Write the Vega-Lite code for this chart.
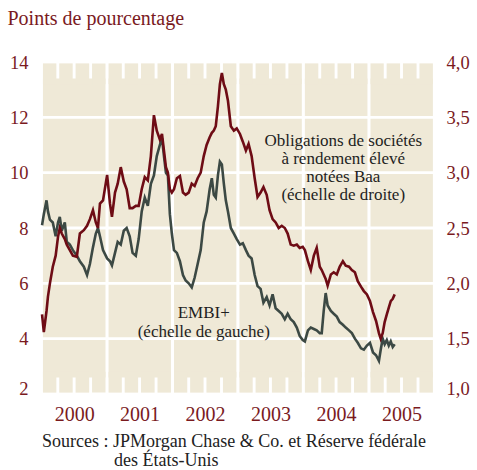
{
  "$schema": "https://vega.github.io/schema/vega-lite/v6.json",
  "width": 393,
  "height": 332,
  "autosize": "none",
  "padding": {"left": 41.5, "top": 62, "right": 42.5, "bottom": 76},
  "config": {
    "view": {"stroke": null},
    "font": "Liberation Serif"
  },
  "title": {
    "text": "Points de pourcentage",
    "anchor": "start",
    "frame": "bounds",
    "font": "Liberation Serif",
    "fontSize": 20,
    "fontWeight": "normal",
    "color": "#7A1A1E",
    "baseline": "alphabetic",
    "offset": 8,
    "dx": -2
  },
  "datasets": {
    "cells": [
      {"x0": "2000-01-09", "x1": "2000-12-23", "y0": 4.05, "y1": 5.95},
      {"x0": "2000-01-09", "x1": "2000-12-23", "y0": 6.05, "y1": 7.95},
      {"x0": "2000-01-09", "x1": "2000-12-23", "y0": 8.05, "y1": 9.95},
      {"x0": "2000-01-09", "x1": "2000-12-23", "y0": 10.05, "y1": 11.95},
      {"x0": "2000-01-09", "x1": "2000-12-23", "y0": 12.05, "y1": 13.4},
      {"x0": "2000-01-09", "x1": "2000-12-23", "y0": 2.6, "y1": 3.95},
      {"x0": "2000-01-09", "x1": "2000-03-24", "y0": 13.2, "y1": 13.95},
      {"x0": "2000-04-09", "x1": "2000-06-23", "y0": 13.2, "y1": 13.95},
      {"x0": "2000-07-09", "x1": "2000-09-23", "y0": 13.2, "y1": 13.95},
      {"x0": "2000-10-09", "x1": "2000-12-23", "y0": 13.2, "y1": 13.95},
      {"x0": "2000-01-09", "x1": "2000-03-24", "y0": 2.05, "y1": 2.8},
      {"x0": "2000-04-09", "x1": "2000-06-23", "y0": 2.05, "y1": 2.8},
      {"x0": "2000-07-09", "x1": "2000-09-23", "y0": 2.05, "y1": 2.8},
      {"x0": "2000-10-09", "x1": "2000-12-23", "y0": 2.05, "y1": 2.8},
      {"x0": "2001-01-09", "x1": "2001-12-23", "y0": 4.05, "y1": 5.95},
      {"x0": "2001-01-09", "x1": "2001-12-23", "y0": 6.05, "y1": 7.95},
      {"x0": "2001-01-09", "x1": "2001-12-23", "y0": 8.05, "y1": 9.95},
      {"x0": "2001-01-09", "x1": "2001-12-23", "y0": 10.05, "y1": 11.95},
      {"x0": "2001-01-09", "x1": "2001-12-23", "y0": 12.05, "y1": 13.4},
      {"x0": "2001-01-09", "x1": "2001-12-23", "y0": 2.6, "y1": 3.95},
      {"x0": "2001-01-09", "x1": "2001-03-24", "y0": 13.2, "y1": 13.95},
      {"x0": "2001-04-09", "x1": "2001-06-23", "y0": 13.2, "y1": 13.95},
      {"x0": "2001-07-09", "x1": "2001-09-23", "y0": 13.2, "y1": 13.95},
      {"x0": "2001-10-09", "x1": "2001-12-23", "y0": 13.2, "y1": 13.95},
      {"x0": "2001-01-09", "x1": "2001-03-24", "y0": 2.05, "y1": 2.8},
      {"x0": "2001-04-09", "x1": "2001-06-23", "y0": 2.05, "y1": 2.8},
      {"x0": "2001-07-09", "x1": "2001-09-23", "y0": 2.05, "y1": 2.8},
      {"x0": "2001-10-09", "x1": "2001-12-23", "y0": 2.05, "y1": 2.8},
      {"x0": "2002-01-09", "x1": "2002-12-23", "y0": 4.05, "y1": 5.95},
      {"x0": "2002-01-09", "x1": "2002-12-23", "y0": 6.05, "y1": 7.95},
      {"x0": "2002-01-09", "x1": "2002-12-23", "y0": 8.05, "y1": 9.95},
      {"x0": "2002-01-09", "x1": "2002-12-23", "y0": 10.05, "y1": 11.95},
      {"x0": "2002-01-09", "x1": "2002-12-23", "y0": 12.05, "y1": 13.4},
      {"x0": "2002-01-09", "x1": "2002-12-23", "y0": 2.6, "y1": 3.95},
      {"x0": "2002-01-09", "x1": "2002-03-24", "y0": 13.2, "y1": 13.95},
      {"x0": "2002-04-09", "x1": "2002-06-23", "y0": 13.2, "y1": 13.95},
      {"x0": "2002-07-09", "x1": "2002-09-23", "y0": 13.2, "y1": 13.95},
      {"x0": "2002-10-09", "x1": "2002-12-23", "y0": 13.2, "y1": 13.95},
      {"x0": "2002-01-09", "x1": "2002-03-24", "y0": 2.05, "y1": 2.8},
      {"x0": "2002-04-09", "x1": "2002-06-23", "y0": 2.05, "y1": 2.8},
      {"x0": "2002-07-09", "x1": "2002-09-23", "y0": 2.05, "y1": 2.8},
      {"x0": "2002-10-09", "x1": "2002-12-23", "y0": 2.05, "y1": 2.8},
      {"x0": "2003-01-09", "x1": "2003-12-23", "y0": 4.05, "y1": 5.95},
      {"x0": "2003-01-09", "x1": "2003-12-23", "y0": 6.05, "y1": 7.95},
      {"x0": "2003-01-09", "x1": "2003-12-23", "y0": 8.05, "y1": 9.95},
      {"x0": "2003-01-09", "x1": "2003-12-23", "y0": 10.05, "y1": 11.95},
      {"x0": "2003-01-09", "x1": "2003-12-23", "y0": 12.05, "y1": 13.4},
      {"x0": "2003-01-09", "x1": "2003-12-23", "y0": 2.6, "y1": 3.95},
      {"x0": "2003-01-09", "x1": "2003-03-24", "y0": 13.2, "y1": 13.95},
      {"x0": "2003-04-09", "x1": "2003-06-23", "y0": 13.2, "y1": 13.95},
      {"x0": "2003-07-09", "x1": "2003-09-23", "y0": 13.2, "y1": 13.95},
      {"x0": "2003-10-09", "x1": "2003-12-23", "y0": 13.2, "y1": 13.95},
      {"x0": "2003-01-09", "x1": "2003-03-24", "y0": 2.05, "y1": 2.8},
      {"x0": "2003-04-09", "x1": "2003-06-23", "y0": 2.05, "y1": 2.8},
      {"x0": "2003-07-09", "x1": "2003-09-23", "y0": 2.05, "y1": 2.8},
      {"x0": "2003-10-09", "x1": "2003-12-23", "y0": 2.05, "y1": 2.8},
      {"x0": "2004-01-09", "x1": "2004-12-23", "y0": 4.05, "y1": 5.95},
      {"x0": "2004-01-09", "x1": "2004-12-23", "y0": 6.05, "y1": 7.95},
      {"x0": "2004-01-09", "x1": "2004-12-23", "y0": 8.05, "y1": 9.95},
      {"x0": "2004-01-09", "x1": "2004-12-23", "y0": 10.05, "y1": 11.95},
      {"x0": "2004-01-09", "x1": "2004-12-23", "y0": 12.05, "y1": 13.4},
      {"x0": "2004-01-09", "x1": "2004-12-23", "y0": 2.6, "y1": 3.95},
      {"x0": "2004-01-09", "x1": "2004-03-24", "y0": 13.2, "y1": 13.95},
      {"x0": "2004-04-09", "x1": "2004-06-23", "y0": 13.2, "y1": 13.95},
      {"x0": "2004-07-09", "x1": "2004-09-23", "y0": 13.2, "y1": 13.95},
      {"x0": "2004-10-09", "x1": "2004-12-23", "y0": 13.2, "y1": 13.95},
      {"x0": "2004-01-09", "x1": "2004-03-24", "y0": 2.05, "y1": 2.8},
      {"x0": "2004-04-09", "x1": "2004-06-23", "y0": 2.05, "y1": 2.8},
      {"x0": "2004-07-09", "x1": "2004-09-23", "y0": 2.05, "y1": 2.8},
      {"x0": "2004-10-09", "x1": "2004-12-23", "y0": 2.05, "y1": 2.8},
      {"x0": "2005-01-09", "x1": "2005-12-23", "y0": 4.05, "y1": 5.95},
      {"x0": "2005-01-09", "x1": "2005-12-23", "y0": 6.05, "y1": 7.95},
      {"x0": "2005-01-09", "x1": "2005-12-23", "y0": 8.05, "y1": 9.95},
      {"x0": "2005-01-09", "x1": "2005-12-23", "y0": 10.05, "y1": 11.95},
      {"x0": "2005-01-09", "x1": "2005-12-23", "y0": 12.05, "y1": 13.4},
      {"x0": "2005-01-09", "x1": "2005-12-23", "y0": 2.6, "y1": 3.95},
      {"x0": "2005-01-09", "x1": "2005-03-24", "y0": 13.2, "y1": 13.95},
      {"x0": "2005-04-09", "x1": "2005-06-23", "y0": 13.2, "y1": 13.95},
      {"x0": "2005-07-09", "x1": "2005-09-23", "y0": 13.2, "y1": 13.95},
      {"x0": "2005-10-09", "x1": "2005-12-23", "y0": 13.2, "y1": 13.95},
      {"x0": "2005-01-09", "x1": "2005-03-24", "y0": 2.05, "y1": 2.8},
      {"x0": "2005-04-09", "x1": "2005-06-23", "y0": 2.05, "y1": 2.8},
      {"x0": "2005-07-09", "x1": "2005-09-23", "y0": 2.05, "y1": 2.8},
      {"x0": "2005-10-09", "x1": "2005-12-23", "y0": 2.05, "y1": 2.8}
    ],
    "series": [
      {"date": "2000-01-04", "embi": 8.1, "baa": 1.72},
      {"date": "2000-01-14", "embi": 8.5, "baa": 1.56},
      {"date": "2000-01-29", "embi": 9.0, "baa": 1.75},
      {"date": "2000-02-06", "embi": 8.6, "baa": 1.88},
      {"date": "2000-02-17", "embi": 8.3, "baa": 2.0},
      {"date": "2000-03-04", "embi": 8.2, "baa": 2.15},
      {"date": "2000-03-20", "embi": 7.7, "baa": 2.25},
      {"date": "2000-04-02", "embi": 8.2, "baa": 2.42},
      {"date": "2000-04-12", "embi": 8.4, "baa": 2.5},
      {"date": "2000-04-23", "embi": 7.9, "baa": 2.45},
      {"date": "2000-05-10", "embi": 8.2, "baa": 2.4},
      {"date": "2000-05-21", "embi": 7.5, "baa": 2.35},
      {"date": "2000-06-07", "embi": 7.4, "baa": 2.3},
      {"date": "2000-06-24", "embi": 7.2, "baa": 2.25},
      {"date": "2000-07-16", "embi": 7.0, "baa": 2.24},
      {"date": "2000-08-02", "embi": 6.8, "baa": 2.45},
      {"date": "2000-08-24", "embi": 6.6, "baa": 2.48},
      {"date": "2000-09-11", "embi": 6.3, "baa": 2.52},
      {"date": "2000-09-27", "embi": 6.7, "baa": 2.58},
      {"date": "2000-10-14", "embi": 7.3, "baa": 2.66},
      {"date": "2000-10-30", "embi": 7.8, "baa": 2.55},
      {"date": "2000-11-11", "embi": 8.0, "baa": 2.5},
      {"date": "2000-11-22", "embi": 7.7, "baa": 2.72},
      {"date": "2000-12-09", "embi": 7.2, "baa": 2.75},
      {"date": "2001-01-01", "embi": 6.9, "baa": 2.98},
      {"date": "2001-01-17", "embi": 6.8, "baa": 2.72},
      {"date": "2001-01-28", "embi": 6.65, "baa": 2.6},
      {"date": "2001-02-14", "embi": 7.1, "baa": 2.82},
      {"date": "2001-03-01", "embi": 7.5, "baa": 2.9},
      {"date": "2001-03-18", "embi": 7.4, "baa": 3.05},
      {"date": "2001-04-04", "embi": 7.9, "baa": 2.92},
      {"date": "2001-04-20", "embi": 8.0, "baa": 2.85},
      {"date": "2001-05-07", "embi": 7.7, "baa": 2.68},
      {"date": "2001-05-23", "embi": 7.1, "baa": 2.68},
      {"date": "2001-06-10", "embi": 7.0, "baa": 2.7},
      {"date": "2001-06-26", "embi": 7.6, "baa": 2.7},
      {"date": "2001-07-13", "embi": 8.6, "baa": 2.85},
      {"date": "2001-07-30", "embi": 9.1, "baa": 2.96},
      {"date": "2001-08-16", "embi": 8.8, "baa": 2.93},
      {"date": "2001-09-02", "embi": 9.6, "baa": 3.15},
      {"date": "2001-09-19", "embi": 9.9, "baa": 3.52},
      {"date": "2001-10-05", "embi": 10.6, "baa": 3.38},
      {"date": "2001-10-22", "embi": 11.0, "baa": 3.3},
      {"date": "2001-11-03", "embi": 11.25, "baa": 3.35},
      {"date": "2001-11-14", "embi": 10.6, "baa": 3.2},
      {"date": "2001-11-25", "embi": 10.0, "baa": 3.05},
      {"date": "2001-12-06", "embi": 9.9, "baa": 3.0},
      {"date": "2001-12-17", "embi": 8.5, "baa": 2.85},
      {"date": "2001-12-28", "embi": 7.8, "baa": 2.82},
      {"date": "2002-01-09", "embi": 7.2, "baa": 2.85},
      {"date": "2002-01-25", "embi": 7.1, "baa": 2.95},
      {"date": "2002-02-11", "embi": 6.8, "baa": 2.97},
      {"date": "2002-02-28", "embi": 6.3, "baa": 2.82},
      {"date": "2002-03-15", "embi": 6.1, "baa": 2.8},
      {"date": "2002-04-01", "embi": 6.0, "baa": 2.82},
      {"date": "2002-04-18", "embi": 5.85, "baa": 2.9},
      {"date": "2002-05-04", "embi": 6.2, "baa": 2.88},
      {"date": "2002-05-21", "embi": 6.7, "baa": 2.95},
      {"date": "2002-06-07", "embi": 7.2, "baa": 3.0},
      {"date": "2002-06-24", "embi": 8.2, "baa": 3.15},
      {"date": "2002-07-10", "embi": 8.6, "baa": 3.25},
      {"date": "2002-07-27", "embi": 9.4, "baa": 3.32},
      {"date": "2002-08-08", "embi": 9.8, "baa": 3.36},
      {"date": "2002-08-19", "embi": 9.2, "baa": 3.38},
      {"date": "2002-08-30", "embi": 9.1, "baa": 3.42},
      {"date": "2002-09-11", "embi": 9.9, "baa": 3.6},
      {"date": "2002-09-22", "embi": 10.4, "baa": 3.8},
      {"date": "2002-10-03", "embi": 10.3, "baa": 3.9},
      {"date": "2002-10-14", "embi": 9.6, "baa": 3.8},
      {"date": "2002-10-25", "embi": 9.0, "baa": 3.75},
      {"date": "2002-11-06", "embi": 8.6, "baa": 3.65},
      {"date": "2002-11-22", "embi": 8.0, "baa": 3.42},
      {"date": "2002-12-09", "embi": 7.8, "baa": 3.38},
      {"date": "2002-12-25", "embi": 7.6, "baa": 3.4},
      {"date": "2003-01-12", "embi": 7.4, "baa": 3.35},
      {"date": "2003-01-28", "embi": 7.45, "baa": 3.28},
      {"date": "2003-02-14", "embi": 7.2, "baa": 3.2},
      {"date": "2003-03-01", "embi": 7.0, "baa": 3.26},
      {"date": "2003-03-18", "embi": 6.9, "baa": 3.15},
      {"date": "2003-04-04", "embi": 6.3, "baa": 2.95},
      {"date": "2003-04-20", "embi": 5.9, "baa": 2.78},
      {"date": "2003-05-07", "embi": 5.8, "baa": 2.82},
      {"date": "2003-05-23", "embi": 5.3, "baa": 2.87},
      {"date": "2003-06-10", "embi": 5.5, "baa": 2.8},
      {"date": "2003-06-26", "embi": 5.2, "baa": 2.66},
      {"date": "2003-07-13", "embi": 5.6, "baa": 2.58},
      {"date": "2003-07-30", "embi": 5.1, "baa": 2.55},
      {"date": "2003-08-16", "embi": 5.0, "baa": 2.5},
      {"date": "2003-09-02", "embi": 4.9, "baa": 2.52},
      {"date": "2003-09-19", "embi": 4.7, "baa": 2.5},
      {"date": "2003-10-05", "embi": 4.9, "baa": 2.45},
      {"date": "2003-10-22", "embi": 4.7, "baa": 2.35},
      {"date": "2003-11-08", "embi": 4.6, "baa": 2.34},
      {"date": "2003-11-25", "embi": 4.4, "baa": 2.35},
      {"date": "2003-12-11", "embi": 4.1, "baa": 2.32},
      {"date": "2003-12-28", "embi": 3.95, "baa": 2.33},
      {"date": "2004-01-09", "embi": 3.9, "baa": 2.3},
      {"date": "2004-01-26", "embi": 4.3, "baa": 2.2},
      {"date": "2004-02-11", "embi": 4.4, "baa": 2.12},
      {"date": "2004-02-28", "embi": 4.35, "baa": 2.25},
      {"date": "2004-03-15", "embi": 4.3, "baa": 2.32},
      {"date": "2004-04-01", "embi": 4.2, "baa": 2.15},
      {"date": "2004-04-12", "embi": 4.2, "baa": 2.12},
      {"date": "2004-04-23", "embi": 5.0, "baa": 2.08},
      {"date": "2004-05-04", "embi": 5.65, "baa": 2.04},
      {"date": "2004-05-15", "embi": 5.2, "baa": 1.98},
      {"date": "2004-06-02", "embi": 5.0, "baa": 2.08},
      {"date": "2004-06-18", "embi": 4.9, "baa": 2.1},
      {"date": "2004-07-05", "embi": 4.8, "baa": 2.08},
      {"date": "2004-07-21", "embi": 4.6, "baa": 2.15},
      {"date": "2004-08-08", "embi": 4.5, "baa": 2.2},
      {"date": "2004-08-24", "embi": 4.4, "baa": 2.16},
      {"date": "2004-09-11", "embi": 4.3, "baa": 2.15},
      {"date": "2004-09-27", "embi": 4.2, "baa": 2.12},
      {"date": "2004-10-14", "embi": 4.0, "baa": 2.1},
      {"date": "2004-10-30", "embi": 3.85, "baa": 2.02},
      {"date": "2004-11-17", "embi": 3.65, "baa": 1.97},
      {"date": "2004-12-03", "embi": 3.6, "baa": 1.93},
      {"date": "2004-12-20", "embi": 3.75, "baa": 1.9},
      {"date": "2005-01-06", "embi": 3.85, "baa": 1.84},
      {"date": "2005-01-23", "embi": 3.5, "baa": 1.74},
      {"date": "2005-02-09", "embi": 3.4, "baa": 1.66},
      {"date": "2005-02-25", "embi": 3.2, "baa": 1.55},
      {"date": "2005-03-07", "embi": 3.6, "baa": 1.5},
      {"date": "2005-03-18", "embi": 4.0, "baa": 1.55},
      {"date": "2005-03-29", "embi": 3.8, "baa": 1.65},
      {"date": "2005-04-10", "embi": 3.95, "baa": 1.72},
      {"date": "2005-04-21", "embi": 3.75, "baa": 1.78},
      {"date": "2005-05-02", "embi": 3.9, "baa": 1.84},
      {"date": "2005-05-13", "embi": 3.7, "baa": 1.86},
      {"date": "2005-05-24", "embi": 3.8, "baa": 1.9}
    ],
    "notesBaa": [
      {"date": "2004-08-10", "v": 10.97, "t": "Obligations de sociétés"},
      {"date": "2004-08-10", "v": 10.31, "t": "à rendement élevé"},
      {"date": "2004-08-10", "v": 9.65, "t": "notées Baa"},
      {"date": "2004-08-10", "v": 9.01, "t": "(échelle de droite)"}
    ],
    "notesEmbi": [
      {"date": "2002-06-24", "v": 4.74, "t": "EMBI+"},
      {"date": "2002-06-24", "v": 4.07, "t": "(échelle de gauche)"}
    ]
  },
  "layer": [
    {
      "data": {"name": "cells"},
      "mark": {"type": "rect", "fill": "#EFE9D7"},
      "encoding": {
        "x": {"field": "x0", "type": "temporal", "axis": null},
        "x2": {"field": "x1"},
        "y": {"field": "y1", "type": "quantitative", "scale": {"domain": [2, 14], "nice": false, "zero": false}, "axis": null},
        "y2": {"field": "y0"}
      }
    },
    {
      "data": {"name": "series"},
      "mark": {"type": "line", "color": "#3C4944", "strokeWidth": 2.6},
      "encoding": {
        "x": {
          "field": "date",
          "type": "temporal",
          "scale": {"type": "utc", "domain": [{"year": 2000, "month": 1, "date": 1, "utc": true}, {"year": 2006, "month": 1, "date": 1, "utc": true}]},
          "axis": {
            "orient": "bottom",
            "values": [
              {"year": 2000, "month": 7, "date": 1, "utc": true}, {"year": 2001, "month": 7, "date": 1, "utc": true}, {"year": 2002, "month": 7, "date": 1, "utc": true},
              {"year": 2003, "month": 7, "date": 1, "utc": true}, {"year": 2004, "month": 7, "date": 1, "utc": true}, {"year": 2005, "month": 7, "date": 1, "utc": true}
            ],
            "tickCount": 50,
            "format": "%Y",
            "domain": false,
            "ticks": false,
            "grid": false,
            "labelFont": "Liberation Serif",
            "labelFontSize": 20,
            "labelColor": "#7A1A1E",
            "labelPadding": 10,
            "labelFlush": false,
            "labelOverlap": false,
            "title": ["Sources : JPMorgan Chase & Co. et Réserve fédérale", "\u200b\u00a0\u00a0\u00a0\u00a0\u00a0\u00a0\u00a0\u00a0\u00a0\u00a0\u00a0\u00a0\u00a0\u00a0\u00a0\u00a0des États-Unis"],
            "titleFont": "Liberation Serif",
            "titleFontSize": 18,
            "titleFontWeight": "normal",
            "titleColor": "#222222",
            "titleAnchor": "start",
            "titleAlign": "left",
            "titleLineHeight": 19,
            "titlePadding": 8
          }
        },
        "y": {
          "field": "embi",
          "type": "quantitative",
          "scale": {"domain": [2, 14], "nice": false, "zero": false},
          "axis": {
            "orient": "left",
            "values": [4, 6, 8, 10, 12, 14],
            "format": "d",
            "domain": false,
            "ticks": false,
            "grid": false,
            "labelFont": "Liberation Serif",
            "labelFontSize": 18.5,
            "labelColor": "#7A1A1E",
            "labelPadding": 13.5,
            "title": null
          }
        }
      }
    },
    {
      "data": {"name": "notesBaa"},
      "mark": {"type": "text", "align": "center", "baseline": "alphabetic", "font": "Liberation Serif", "fontSize": 17, "color": "#1E1E1E"},
      "encoding": {
        "x": {"field": "date", "type": "temporal", "axis": null},
        "y": {
          "field": "v",
          "type": "quantitative",
          "scale": {"domain": [2, 14], "nice": false, "zero": false},
          "axis": {
            "orient": "left",
            "values": [2],
            "format": "d",
            "domain": false,
            "ticks": false,
            "grid": false,
            "labelFont": "Liberation Serif",
            "labelFontSize": 18.5,
            "labelColor": "#7A1A1E",
            "labelPadding": 13.5,
            "labelOffset": -6,
            "title": null
          }
        },
        "text": {"field": "t"}
      }
    },
    {
      "data": {"name": "notesEmbi"},
      "mark": {"type": "text", "align": "center", "baseline": "alphabetic", "font": "Liberation Serif", "fontSize": 17, "color": "#1E1E1E"},
      "encoding": {
        "x": {"field": "date", "type": "temporal", "axis": null},
        "y": {
          "field": "v",
          "type": "quantitative",
          "scale": {"domain": [2, 14], "nice": false, "zero": false},
          "axis": {
            "orient": "right",
            "values": [2],
            "labelExpr": "'1,0'",
            "domain": false,
            "ticks": false,
            "grid": false,
            "labelFont": "Liberation Serif",
            "labelFontSize": 18.5,
            "labelColor": "#7A1A1E",
            "labelPadding": 11.5,
            "labelOffset": -6,
            "title": null
          }
        },
        "text": {"field": "t"}
      }
    },
    {
      "data": {"name": "series"},
      "mark": {"type": "line", "color": "#6E0C15", "strokeWidth": 2.6},
      "encoding": {
        "x": {"field": "date", "type": "temporal", "axis": null},
        "y": {
          "field": "baa",
          "type": "quantitative",
          "scale": {"domain": [1, 4], "nice": false, "zero": false},
          "axis": {
            "orient": "right",
            "values": [1.5, 2, 2.5, 3, 3.5, 4],
            "domain": false,
            "ticks": false,
            "grid": false,
            "labelExpr": "replace(format(datum.value, '.1f'), '.', ',')",
            "labelFont": "Liberation Serif",
            "labelFontSize": 18.5,
            "labelColor": "#7A1A1E",
            "labelPadding": 11.5,
            "title": null
          }
        }
      }
    }
  ],
  "resolve": {"scale": {"y": "independent"}, "axis": {"x": "independent", "y": "independent"}}
}
